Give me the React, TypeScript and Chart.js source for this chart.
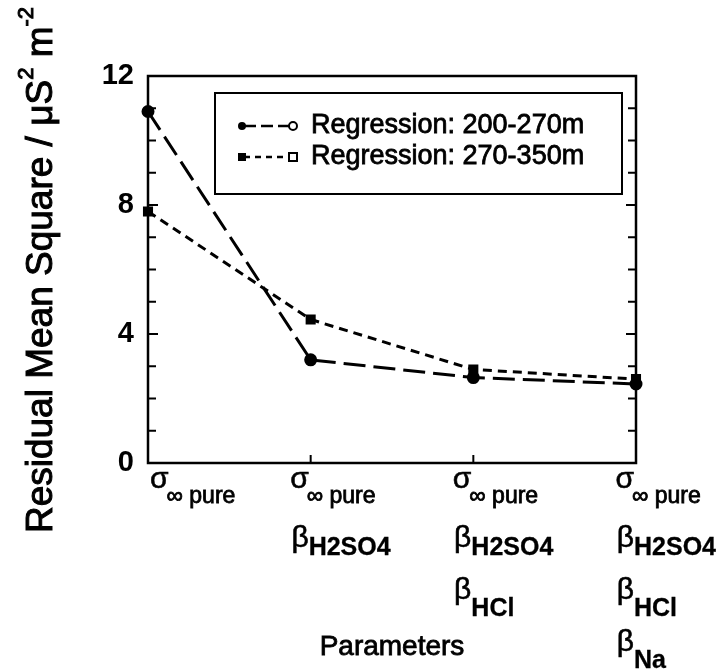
import React, { useEffect, useRef } from 'react';
import { Chart, registerables } from 'chart.js';

Chart.register(...registerables);

// ---- data ----
const categoryLabels = ['σ∞ pure', 'σ∞ pure βH2SO4', 'σ∞ pure βH2SO4 βHCl', 'σ∞ pure βH2SO4 βHCl βNa'];
// each category: list of [symbol, subscript] rows
const categoryRows: string[][][] = [
  [['σ', '∞ pure']],
  [['σ', '∞ pure'], ['β', 'H2SO4']],
  [['σ', '∞ pure'], ['β', 'H2SO4'], ['β', 'HCl']],
  [['σ', '∞ pure'], ['β', 'H2SO4'], ['β', 'HCl'], ['β', 'Na']],
];
const series200to270 = [10.9, 3.2, 2.65, 2.45];
const series270to350 = [7.8, 4.45, 2.9, 2.6];
const seriesNames = ['Regression: 200-270m', 'Regression: 270-350m'];
const yMin = 0;
const yMax = 12;
const yLabelStep = 4;
const xTitle = 'Parameters';
const yTitleMain = 'Residual Mean Square / μS';

const FONT = '"Liberation Sans", Arial, Helvetica, sans-serif';
const dashes = [[22, 8], [9, 6]];

function heavyText(ctx: CanvasRenderingContext2D, t: string, x: number, y: number, w = 0.8) {
  ctx.fillText(t, x, y);
  ctx.save();
  ctx.lineWidth = w;
  ctx.setLineDash([]);
  ctx.strokeText(t, x, y);
  ctx.restore();
}

const decorPlugin = {
  id: 'decor',
  afterDraw(chart: any) {
    const ctx = chart.ctx as CanvasRenderingContext2D;
    const a = chart.chartArea;
    const xs = chart.scales.x;
    const ys = chart.scales.y;
    ctx.save();
    ctx.strokeStyle = '#000';
    ctx.fillStyle = '#000';
    // frame
    ctx.lineWidth = 2.5;
    ctx.strokeRect(a.left, a.top, a.right - a.left, a.bottom - a.top);
    // inward y ticks on both sides
    ctx.lineWidth = 2;
    ys.ticks.forEach((t: any) => {
      const y = ys.getPixelForValue(t.value);
      if (t.value === yMin || t.value === yMax) return;
      const len = t.value % yLabelStep === 0 ? 10 : 8;
      ctx.beginPath();
      ctx.moveTo(a.left, y);
      ctx.lineTo(a.left + len, y);
      ctx.moveTo(a.right, y);
      ctx.lineTo(a.right - len, y);
      ctx.stroke();
    });
    // inward x ticks
    for (let i = 1; i < categoryLabels.length - 1; i++) {
      const x = xs.getPixelForValue(i);
      ctx.beginPath();
      ctx.moveTo(x, a.bottom);
      ctx.lineTo(x, a.bottom - 8);
      ctx.stroke();
    }
    // category labels
    categoryRows.forEach((rows, i) => {
      const x = xs.getPixelForValue(i);
      rows.forEach((row, r) => {
        const [sym, sub] = row;
        const isSigma = sym === 'σ';
        const symFont = `30px ${FONT}`;
        const subFont = isSigma ? `23px ${FONT}` : `bold 25px ${FONT}`;
        ctx.font = symFont;
        const w = ctx.measureText(sym).width;
        const left = i === 0 ? x + 2 : x - w - 2;
        const baseY = isSigma ? 488 : 547 + (r - 1) * 52;
        ctx.textAlign = 'left';
        ctx.textBaseline = 'alphabetic';
        heavyText(ctx, sym, left, baseY, 0.6);
        ctx.font = subFont;
        const drop = isSigma ? 15 : r === 1 ? 8 : 17;
        heavyText(ctx, sub, left + w - (isSigma ? 2 : 0), baseY + drop, isSigma ? 0.8 : 0.3);
      });
    });
    // x title
    ctx.font = `28px ${FONT}`;
    ctx.textAlign = 'center';
    ctx.textBaseline = 'middle';
    heavyText(ctx, xTitle, (a.left + a.right) / 2, 647);
    // y title (rotated, with superscripts)
    ctx.save();
    ctx.translate(42, 270);
    ctx.rotate(-Math.PI / 2);
    const big = `37px ${FONT}`;
    const small = `22px ${FONT}`;
    const parts: [string, string, number][] = [
      [yTitleMain, big, 0],
      ['2', small, -15],
      [' m', big, 0],
      ['-2', small, -15],
    ];
    let total = 0;
    parts.forEach(([t, f]) => { ctx.font = f; total += ctx.measureText(t).width; });
    let px = -total / 2;
    ctx.textAlign = 'left';
    ctx.textBaseline = 'middle';
    parts.forEach(([t, f, dy]) => {
      ctx.font = f;
      heavyText(ctx, t, px, dy, 1);
      px += ctx.measureText(t).width;
    });
    ctx.restore();
    // legend
    const bx = 215, by = 93, bw = 407, bh = 101;
    ctx.fillStyle = '#fff';
    ctx.fillRect(bx, by, bw, bh);
    ctx.fillStyle = '#000';
    ctx.lineWidth = 2;
    ctx.strokeRect(bx, by, bw, bh);
    chart.data.datasets.forEach((ds: any, k: number) => {
      const ly = 126 + k * 31;
      ctx.lineWidth = 2.5;
      ctx.setLineDash(k === 0 ? [12, 5] : [6, 5]);
      ctx.beginPath();
      ctx.moveTo(244, ly);
      ctx.lineTo(290, ly);
      ctx.stroke();
      ctx.setLineDash([]);
      // markers
      ctx.lineWidth = 2;
      if (k === 0) {
        ctx.beginPath(); ctx.arc(242, ly, 4, 0, Math.PI * 2); ctx.fill();
        ctx.beginPath(); ctx.arc(293, ly, 4, 0, Math.PI * 2);
        ctx.fillStyle = '#fff'; ctx.fill(); ctx.fillStyle = '#000'; ctx.stroke();
      } else {
        ctx.fillRect(238, ly - 4, 8, 8);
        ctx.fillStyle = '#fff'; ctx.fillRect(289, ly - 4, 8, 8); ctx.fillStyle = '#000';
        ctx.strokeRect(289, ly - 4, 8, 8);
      }
      ctx.font = `27px ${FONT}`;
      ctx.textAlign = 'left';
      ctx.textBaseline = 'middle';
      heavyText(ctx, ds.label, 311, ly);
    });
    ctx.restore();
  },
};

export default function App() {
  const ref = useRef<HTMLCanvasElement | null>(null);
  useEffect(() => {
    if (!ref.current) return;
    const chart = new Chart(ref.current, {
      type: 'line',
      data: {
        labels: categoryLabels,
        datasets: [
          {
            label: seriesNames[0],
            data: series200to270,
            borderColor: '#000',
            backgroundColor: '#000',
            borderWidth: 3,
            borderDash: dashes[0],
            pointStyle: 'circle',
            pointRadius: 5,
            pointBackgroundColor: '#000',
            tension: 0,
            clip: false as any,
          },
          {
            label: seriesNames[1],
            data: series270to350,
            borderColor: '#000',
            backgroundColor: '#000',
            borderWidth: 3,
            borderDash: dashes[1],
            pointStyle: 'rect',
            pointRadius: 5,
            pointBackgroundColor: '#000',
            tension: 0,
            clip: false as any,
          },
        ],
      },
      options: {
        animation: false,
        responsive: false,
        maintainAspectRatio: false,
        layout: { padding: { top: 76, right: 82, left: 0, bottom: 0 } },
        plugins: { legend: { display: false }, tooltip: { enabled: false }, title: { display: false } },
        scales: {
          x: {
            type: 'category',
            offset: false,
            grid: { display: false, drawTicks: false },
            border: { display: false },
            ticks: { display: false },
            afterFit: (s: any) => { s.height = 670 - 463; },
          },
          y: {
            min: yMin,
            max: yMax,
            grid: { display: false, drawTicks: false },
            border: { display: false },
            ticks: {
              stepSize: 1,
              autoSkip: false,
              padding: 14,
              color: '#000',
              font: { family: FONT, size: 29, weight: 'bold' },
              callback: (v: any) => (Number(v) % yLabelStep === 0 ? String(v) : ''),
            },
            afterFit: (s: any) => { s.width = 148; },
          },
        },
      },
      plugins: [decorPlugin],
    });
    return () => chart.destroy();
  }, []);
  return (
    <div style={{ position: 'fixed', left: 0, top: 0, width: 718, height: 670, background: '#fff' }}>
      <canvas ref={ref} width={718} height={670} style={{ width: 718, height: 670 }} />
    </div>
  );
}
